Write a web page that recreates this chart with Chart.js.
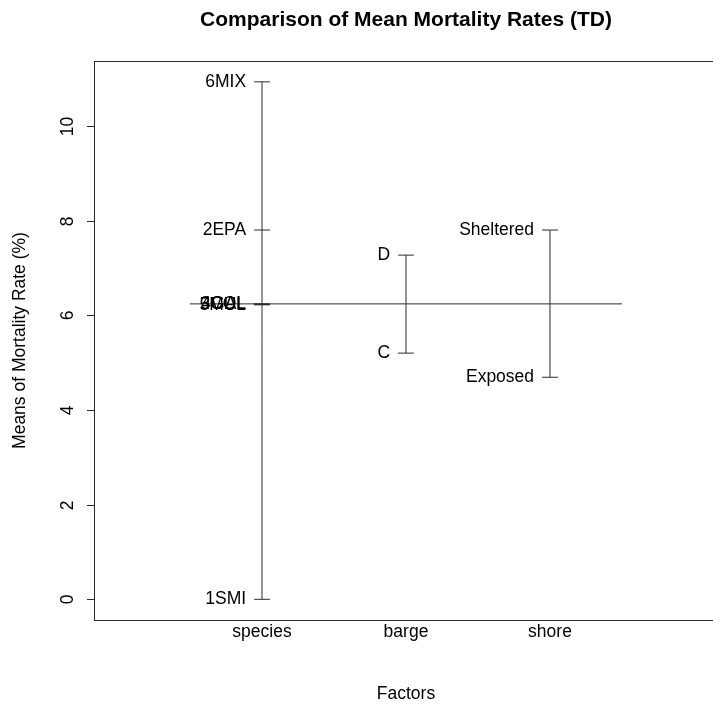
<!DOCTYPE html>
<html>
<head>
<meta charset="utf-8">
<script src="https://cdn.jsdelivr.net/npm/chart.js@4/dist/chart.umd.min.js"></script>
<style>
  html, body { margin: 0; padding: 0; background: #fff; overflow: hidden; }
  #wrap { width: 713px; height: 707px; overflow: hidden; }
</style>
</head>
<body>
<div id="wrap"><canvas id="design" width="725" height="707" style="width:725px;height:707px"></canvas></div>
<script>
var factors = ['species', 'barge', 'shore']
var speciesLevels = ['1SMI', '2EPA', '3COL', '4GAL', '5MUL', '6MIX']
var speciesMeans = [0.0, 7.80, 6.23, 6.24, 6.22, 10.93]
var bargeLevels = ['C', 'D']
var bargeMeans = [5.20, 7.27]
var shoreLevels = ['Exposed', 'Sheltered']
var shoreMeans = [4.69, 7.80]
var grandMean = 6.24
var yTicks = [0, 2, 4, 6, 8, 10]

var levels = [speciesLevels, bargeLevels, shoreLevels]
var means = [speciesMeans, bargeMeans, shoreMeans]

var ink = '#2b2b2b'
var fontFam = '"Liberation Sans", Arial, Helvetica, sans-serif'
var tickHalf = 0.055

// build line segments from the means (vertical range + short tick per level)
var datasets = []
means.forEach(function(m, i) {
    var xc = i + 1
    datasets.push({
        data: [{x: xc, y: Math.min.apply(null, m)}, {x: xc, y: Math.max.apply(null, m)}],
        showLine: true, borderColor: ink, borderWidth: 1, pointRadius: 0
    })
    var pts = []
    m.forEach(function(v) {
        pts.push({x: xc - tickHalf, y: v}, {x: xc + tickHalf, y: v}, {x: xc, y: null})
    })
    datasets.push({data: pts, showLine: true, spanGaps: false, borderColor: ink, borderWidth: 1, pointRadius: 0})
})
// grand mean line
datasets.push({
    data: [{x: 0.5, y: grandMean}, {x: factors.length + 0.5, y: grandMean}],
    showLine: true, borderColor: ink, borderWidth: 1, pointRadius: 0
})

var textPlugin = {
    id: 'designText',
    afterDraw: function(chart) {
        var c = chart.ctx
        var a = chart.chartArea
        var xs = chart.scales.x
        var ys = chart.scales.y
        c.save()
        // frame
        c.strokeStyle = ink
        c.lineWidth = 1
        c.strokeRect(Math.round(a.left) + 0.5, Math.round(a.top) + 0.5, Math.round(a.right - a.left), Math.round(a.bottom - a.top))
        // y tick marks and labels
        c.fillStyle = '#000'
        c.font = '17.5px ' + fontFam
        yTicks.forEach(function(t) {
            var py = Math.round(ys.getPixelForValue(t)) + 0.5
            c.beginPath()
            c.moveTo(a.left - 7, py)
            c.lineTo(a.left, py)
            c.stroke()
            c.save()
            c.translate(68, py)
            c.rotate(-Math.PI / 2)
            c.textAlign = 'center'
            c.textBaseline = 'middle'
            c.fillText(String(t), 0, 0)
            c.restore()
        })
        // level labels
        c.textAlign = 'right'
        c.textBaseline = 'middle'
        levels.forEach(function(lv, i) {
            var px = xs.getPixelForValue(i + 1 - tickHalf) - 8
            lv.forEach(function(name, j) {
                c.fillText(name, px, ys.getPixelForValue(means[i][j]))
            })
        })
        // factor names
        c.textAlign = 'center'
        factors.forEach(function(f, i) {
            c.fillText(f, xs.getPixelForValue(i + 1), 632)
        })
        // axis titles
        c.fillText('Factors', (a.left + a.right) / 2, 694)
        c.save()
        c.translate(20, (a.top + a.bottom) / 2)
        c.rotate(-Math.PI / 2)
        c.fillText('Means of Mortality Rate (%)', 0, 0)
        c.restore()
        // title
        c.font = 'bold 21px ' + fontFam
        c.fillText('Comparison of Mean Mortality Rates (TD)', (a.left + a.right) / 2, 20)
        c.restore()
    }
}

var ctx = document.getElementById('design')
var chart = new Chart(ctx, {
    type: 'scatter',
    data: {datasets: datasets},
    options: {
        responsive: false,
        animation: false,
        devicePixelRatio: 1,
        layout: {padding: {top: 61, right: 7, left: 0, bottom: 0}},
        plugins: {legend: {display: false}, tooltip: {enabled: false}},
        scales: {
            x: {
                type: 'linear', min: -0.167, max: 4.167,
                grid: {display: false}, border: {display: false},
                ticks: {display: false},
                afterFit: function(s) { s.height = 87 }
            },
            y: {
                type: 'linear', min: -0.437, max: 11.37,
                grid: {display: false}, border: {display: false},
                ticks: {display: false},
                afterBuildTicks: function(s) { s.ticks = yTicks.map(function(v) { return {value: v} }) },
                afterFit: function(s) { s.width = 94 }
            }
        }
    },
    plugins: [textPlugin]
})
</script>
</body>
</html>
